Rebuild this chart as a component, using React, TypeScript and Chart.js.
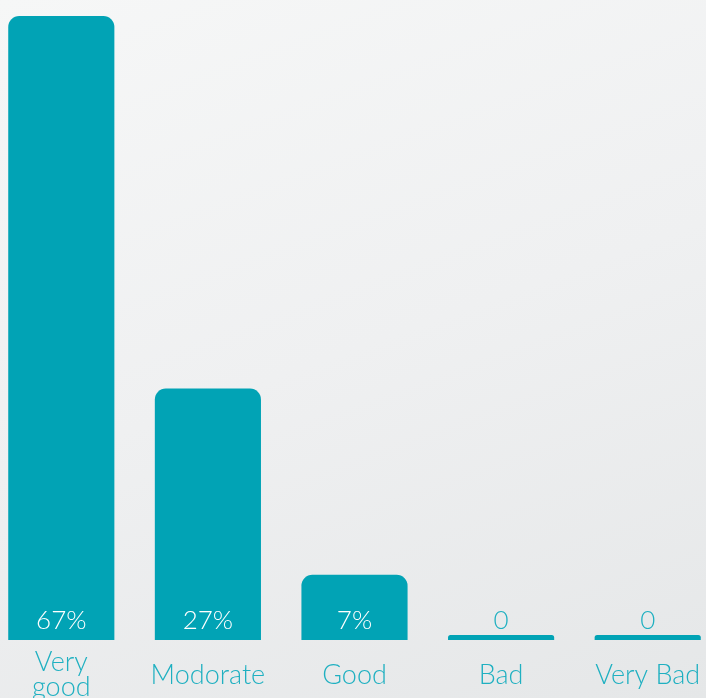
import React, { useEffect, useRef } from "react";
import { Chart, registerables } from "chart.js";

Chart.register(...registerables);

const categories: (string | string[])[] = [["Very", "good"], "Modorate", "Good", "Bad", "Very Bad"];
const values: number[] = [67, 27, 7, 0, 0];

const BAR = "#01a3b5";
const TEXT = "#1fb0c1";
const FONT = "Lato";

const valueLabels = {
  id: "valueLabels",
  afterDatasetsDraw(chart: any) {
    const ctx = chart.ctx;
    const meta = chart.getDatasetMeta(0);
    const yScale = chart.scales.y;
    const base = yScale.getPixelForValue(0);
    ctx.save();
    ctx.font = `300 26px ${FONT}`;
    ctx.textAlign = "center";
    ctx.textBaseline = "alphabetic";
    meta.data.forEach((bar: any, i: number) => {
      const v = values[i];
      ctx.fillStyle = v > 0 ? "#ffffff" : TEXT;
      ctx.fillText(v > 0 ? `${v}%` : "0", bar.x, base - 11);
    });
    ctx.restore();
  },
};

export default function App() {
  const ref = useRef<HTMLCanvasElement>(null);
  useEffect(() => {
    if (!ref.current) return;
    const chart = new Chart(ref.current, {
      type: "bar",
      data: {
        labels: categories,
        datasets: [
          {
            data: values,
            backgroundColor: BAR,
            borderRadius: { topLeft: 11, topRight: 11, bottomLeft: 0, bottomRight: 0 },
            borderSkipped: "bottom",
            minBarLength: 5,
            barPercentage: 0.724,
            categoryPercentage: 1,
          },
        ],
      },
      options: {
        responsive: false,
        animation: false,
        layout: { padding: { top: 16, left: 0, right: 0, bottom: 0 } },
        plugins: { legend: { display: false }, tooltip: { enabled: false } },
        scales: {
          x: {
            grid: { display: false },
            border: { display: false },
            ticks: {
              color: TEXT,
              font: { family: FONT, size: 27, weight: "300" as any, lineHeight: 0.95 },
              padding: 14,
              crossAlign: "center",
              maxRotation: 0,
              autoSkip: false,
            },
            afterFit: (scale: any) => {
              scale.height = 58;
            },
          },
          y: { display: false, min: 0, max: 67 },
        },
      },
      plugins: [valueLabels],
    });
    return () => chart.destroy();
  }, []);
  return (
    <div
      style={{
        position: "fixed",
        left: 0,
        top: 0,
        width: 706,
        height: 698,
        overflow: "hidden",
        background: "linear-gradient(160deg, #f6f7f7 0%, #eff0f1 50%, #e5e7e8 100%)",
      }}
    >
      <canvas
        ref={ref}
        width={733}
        height={698}
        style={{ position: "absolute", left: -12, top: 0, width: 733, height: 698 }}
      />
    </div>
  );
}
